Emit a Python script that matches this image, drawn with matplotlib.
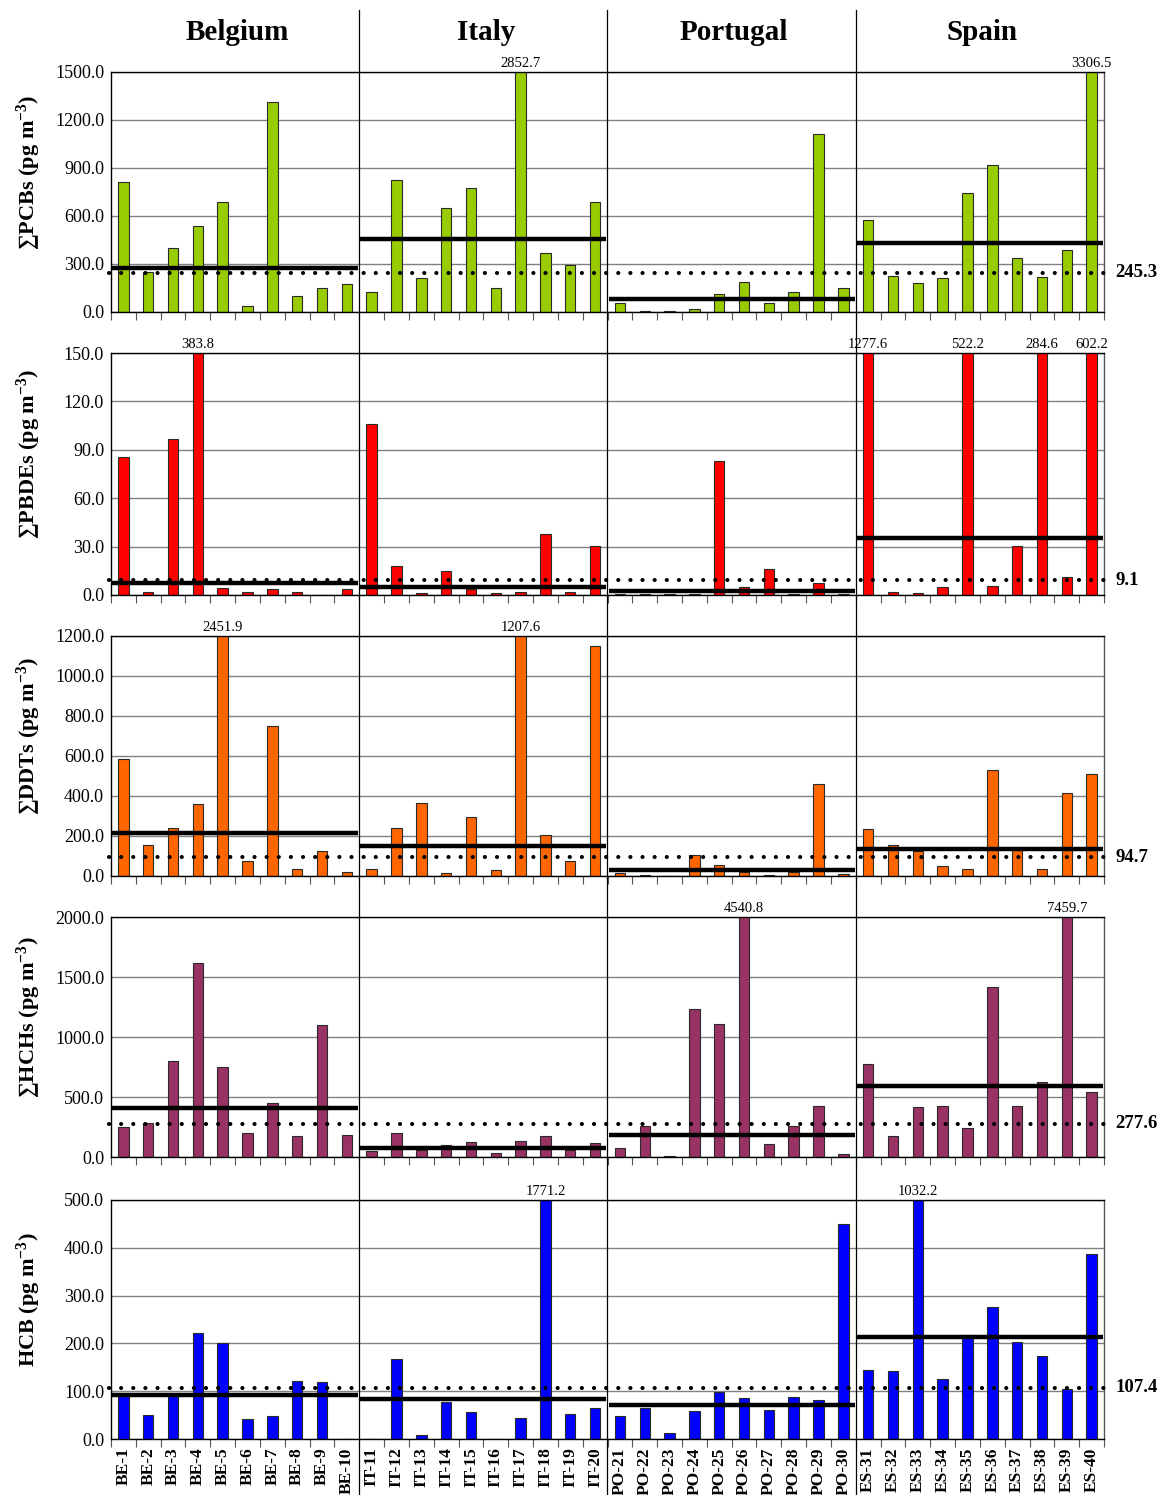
import matplotlib
matplotlib.use("Agg")
import matplotlib.pyplot as plt
from matplotlib.lines import Line2D
import numpy as np

plt.rcParams['font.family'] = ['Liberation Serif', 'DejaVu Serif']
plt.rcParams['mathtext.fontset'] = 'custom'
plt.rcParams['mathtext.rm'] = 'Liberation Serif:bold'
plt.rcParams['mathtext.bf'] = 'Liberation Serif:bold'
plt.rcParams['mathtext.it'] = 'Liberation Serif:bold'

countries = ["Belgium", "Italy", "Portugal", "Spain"]
sites = ["BE-1", "BE-2", "BE-3", "BE-4", "BE-5", "BE-6", "BE-7", "BE-8", "BE-9", "BE-10",
         "IT-11", "IT-12", "IT-13", "IT-14", "IT-15", "IT-16", "IT-17", "IT-18", "IT-19", "IT-20",
         "PO-21", "PO-22", "PO-23", "PO-24", "PO-25", "PO-26", "PO-27", "PO-28", "PO-29", "PO-30",
         "ES-31", "ES-32", "ES-33", "ES-34", "ES-35", "ES-36", "ES-37", "ES-38", "ES-39", "ES-40"]

pcbs = [811, 252, 401, 538, 687, 37, 1314, 97, 153, 172,
        128, 823, 211, 650, 772, 147, 2852.7, 370, 292, 687,
        56, 8, 8, 17, 114, 190, 58, 122, 1115, 153,
        575, 228, 180, 213, 741, 921, 339, 219, 385, 3306.5]
pcbs_country = [277, 457, 79, 432]
pcbs_overall = 245.3

pbdes = [85.8, 1.6, 96.9, 383.8, 4.1, 1.6, 3.5, 2.1, 0.3, 3.5,
         105.8, 17.9, 1.2, 15.0, 4.0, 1.4, 1.6, 37.5, 1.6, 30.5,
         0.5, 0.5, 0.5, 0.5, 83.1, 4.7, 16.3, 0.5, 7.4, 0.5,
         1277.6, 1.9, 1.4, 4.7, 522.2, 5.6, 30.5, 284.6, 11.3, 602.2]
pbdes_country = [7.6, 4.9, 2.5, 35.2]
pbdes_overall = 9.1

ddts = [585, 155, 242, 360, 2451.9, 75, 750, 37, 127, 22,
        37, 242, 367, 15, 295, 30, 1207.6, 203, 75, 1150,
        13, 3, 1, 107, 57, 18, 5, 22, 460, 10,
        235, 153, 125, 50, 33, 530, 130, 33, 415, 512]
ddts_country = [217, 150, 30, 135]
ddts_overall = 94.7

hchs = [250, 287, 804, 1614, 749, 198, 452, 171, 1102, 182,
        47, 204, 60, 99, 129, 30, 135, 171, 60, 113,
        77, 262, 8, 1231, 1108, 4540.8, 105, 262, 421, 22,
        774, 179, 416, 421, 240, 1413, 421, 625, 7459.7, 540]
hchs_country = [405, 74, 185, 592]
hchs_overall = 277.6

hcb = [90, 51, 90, 222, 200, 42, 49, 122, 120, 0,
       0, 167, 9, 78, 56, 0, 44, 1771.2, 53, 64,
       49, 64, 13, 59, 99, 85, 60, 87, 81, 449,
       145, 143, 1032.2, 126, 218, 276, 203, 173, 105, 386]
hcb_country = [93, 83, 71, 213]
hcb_overall = 107.4

ylabels = [r"∑PCBs (pg m$^{-3}$)", r"∑PBDEs (pg m$^{-3}$)", r"∑DDTs (pg m$^{-3}$)",
           r"∑HCHs (pg m$^{-3}$)", r"HCB (pg m$^{-3}$)"]
ymaxes = [1500, 150, 1200, 2000, 500]
ysteps = [300, 30, 200, 500, 100]
colors = ["#99CC00", "#FF0000", "#FF6600", "#993366", "#0000FF"]
series = [pcbs, pbdes, ddts, hchs, hcb]
country_means = [pcbs_country, pbdes_country, ddts_country, hchs_country, hcb_country]
overall = [pcbs_overall, pbdes_overall, ddts_overall, hchs_overall, hcb_overall]

W, H = 1160, 1495
fig = plt.figure(figsize=(W / 100, H / 100), dpi=100)
rows_px = [(72, 312), (353, 595), (636, 876), (917, 1157), (1200, 1439)]
left_px, right_px = 111, 1104

n = len(sites)
x = np.arange(n)
axes = []
for r, (top, bot) in enumerate(rows_px):
    ax = fig.add_axes([left_px / W, 1 - bot / H, (right_px - left_px) / W, (bot - top) / H])
    axes.append(ax)
    vals = np.array(series[r], dtype=float)
    ymax = ymaxes[r]
    ax.set_xlim(-0.5, n - 0.5)
    ax.set_ylim(0, ymax)
    ticks = np.arange(0, ymax + 0.1, ysteps[r])
    ax.set_yticks(ticks)
    ax.set_yticklabels([f"{v:.1f}" for v in ticks], fontsize=13)
    ax.yaxis.grid(True, color="#808080", lw=1.0)
    ax.set_axisbelow(True)
    ax.tick_params(axis='y', length=0, pad=5)
    ax.bar(x, vals, width=0.42, color=colors[r], edgecolor="#2a2a2a", linewidth=0.8, zorder=2)
    # overflow labels
    for xi, v in zip(x, vals):
        if v > ymax:
            ax.text(xi, ymax * 1.008, f"{v:.1f}", ha='center', va='bottom', fontsize=10.5)
    # country reference lines
    for k, cm in enumerate(country_means[r]):
        ax.hlines(cm, 10 * k - 0.45, 10 * k + 9.45, colors='black', lw=3.2, zorder=4)
    # overall dotted line
    ax.hlines(overall[r], -0.6, n - 0.5, colors='black', lw=3.0,
              linestyles=(0, (0.01, 2.9)), capstyle='round', zorder=5, clip_on=False)
    ax.text(n - 0.5 + 0.45, overall[r], f"{overall[r]:.1f}", fontsize=13.5, fontweight='bold',
            ha='left', va='center')
    # spines
    for s in ['left', 'bottom', 'top']:
        ax.spines[s].set_color('black')
        ax.spines[s].set_linewidth(1.0)
    ax.spines['right'].set_color('#555555')
    ax.spines['right'].set_linewidth(1.0)
    ax.set_xticks(np.arange(-0.5, n, 1.0))
    ax.set_xticklabels([])
    ax.tick_params(axis='x', which='major', length=6, color='#555555', direction='out')
    if r == len(rows_px) - 1:
        ax.set_xticks(x, minor=True)
        ax.set_xticklabels(sites, minor=True, rotation=90, fontsize=12.5, fontweight='bold')
        ax.tick_params(axis='x', which='minor', length=0, pad=6)
    fig.text(29 / W, 1 - ((top + bot) / 2 - 20) / H, ylabels[r], rotation=90, ha='center',
             va='center', fontsize=16, fontweight='bold')

# vertical separators between countries and country titles
ax0 = axes[0]
for k in range(1, len(countries)):
    xd = 10 * k - 0.5
    xf = fig.transFigure.inverted().transform(ax0.transData.transform((xd, 0)))[0]
    fig.add_artist(Line2D([xf, xf], [0, 1 - 10 / H], color='black', lw=0.9, zorder=10))
for k, c in enumerate(countries):
    xc = 10 * k + 4.6
    xf = fig.transFigure.inverted().transform(ax0.transData.transform((xc, 0)))[0]
    fig.text(xf, 1 - 33 / H, c, ha='center', va='center', fontsize=21, fontweight='bold')

fig.savefig("out.png", dpi=100)
